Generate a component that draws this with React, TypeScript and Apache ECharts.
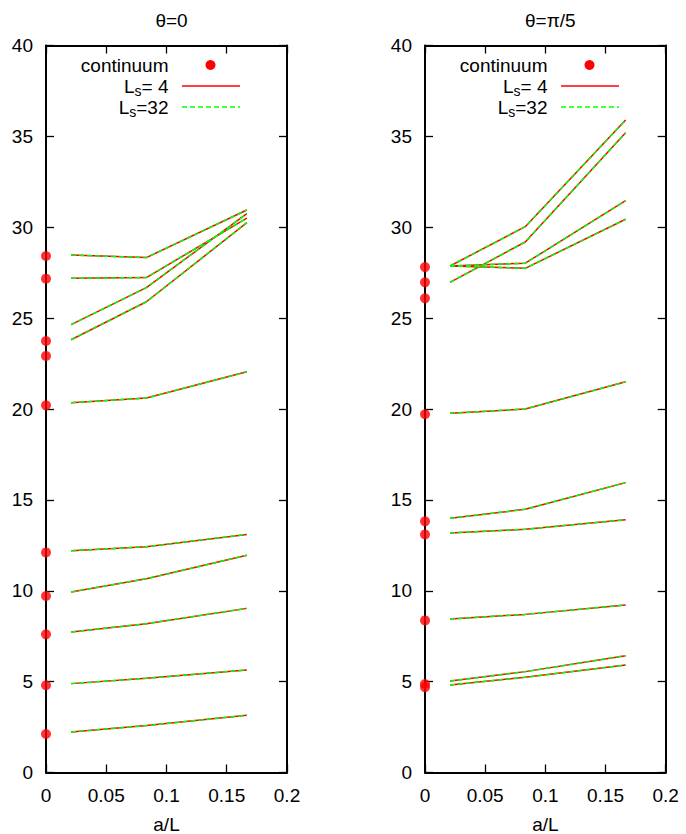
import React, { useEffect, useRef } from 'react';
import * as echarts from 'echarts';

// x positions of the lattice results (a/L)
const X_LEVELS = [0.0208, 0.0833, 0.1667];

// theta = 0
const THETA0_CONTINUUM = [28.42, 27.17, 23.74, 22.92, 20.2, 12.11, 9.71, 7.6, 4.8, 2.12];
const THETA0_LS4 = [
  [28.47, 28.33, 30.95],
  [27.19, 27.23, 30.5],
  [24.64, 26.68, 30.75],
  [23.81, 25.9, 30.25],
  [20.35, 20.6, 22.05],
  [12.2, 12.42, 13.1],
  [9.93, 10.66, 11.95],
  [7.73, 8.19, 9.03],
  [4.89, 5.18, 5.64],
  [2.23, 2.58, 3.15],
];
const THETA0_LS32 = [
  [28.47, 28.33, 30.95],
  [27.19, 27.23, 30.5],
  [24.64, 26.68, 30.75],
  [23.81, 25.9, 30.25],
  [20.35, 20.6, 22.05],
  [12.2, 12.42, 13.1],
  [9.93, 10.66, 11.95],
  [7.73, 8.19, 9.03],
  [4.89, 5.18, 5.64],
  [2.23, 2.58, 3.15],
];

// theta = pi/5
const PI5_CONTINUUM = [27.81, 26.97, 26.09, 19.71, 13.82, 13.1, 8.37, 4.87, 4.69];
const PI5_LS4 = [
  [27.87, 30.03, 35.9],
  [26.97, 29.19, 35.2],
  [27.87, 28.02, 31.46],
  [27.87, 27.74, 30.44],
  [19.76, 20.0, 21.5],
  [13.99, 14.48, 15.95],
  [13.18, 13.38, 13.91],
  [8.45, 8.7, 9.22],
  [5.03, 5.55, 6.43],
  [4.81, 5.24, 5.91],
];
const PI5_LS32 = [
  [27.87, 30.03, 35.9],
  [26.97, 29.19, 35.2],
  [27.87, 28.02, 31.46],
  [27.87, 27.74, 30.44],
  [19.76, 20.0, 21.5],
  [13.99, 14.48, 15.95],
  [13.18, 13.38, 13.91],
  [8.45, 8.7, 9.22],
  [5.03, 5.55, 6.43],
  [4.81, 5.24, 5.91],
];

const TITLES = ['θ=0', 'θ=π/5'];
const X_NAME = 'a/L';
const LEGEND_LABELS = ['continuum', 'L{s|s}{n|= 4}', 'L{s|s}{n|=32}'];

const FONT = "'Liberation Sans', Arial, Helvetica, sans-serif";
const RED = '#ff0000';
const GREEN = '#00ff00';

const GRIDS = [
  { left: 46, top: 45.5, width: 241, height: 727 },
  { left: 425, top: 45.5, width: 240.7, height: 727 },
];

export default function App() {
  const ref = useRef<HTMLDivElement>(null);

  useEffect(() => {
    document.body.style.margin = '0';
    if (!ref.current) return;
    const chart = echarts.init(ref.current, undefined, { renderer: 'svg' });

    const axisLine = { show: true, onZero: false, lineStyle: { color: '#000', width: 2 } };
    const axisTick = { show: true, inside: true, length: 8, lineStyle: { color: '#000', width: 1.3 } };
    const labelStyle = { color: '#000', fontSize: 19, fontFamily: FONT };

    const xAxes: any[] = [];
    const yAxes: any[] = [];
    GRIDS.forEach((_, gi) => {
      xAxes.push({
        type: 'value', gridIndex: gi, position: 'bottom', min: 0, max: 0.2, interval: 0.05,
        axisLine, axisTick, splitLine: { show: false },
        axisLabel: { ...labelStyle, margin: 13 },
        name: X_NAME, nameLocation: 'middle', nameGap: 42,
        nameTextStyle: { color: '#000', fontSize: 19, lineHeight: 19, fontFamily: FONT },
      });
      xAxes.push({
        type: 'value', gridIndex: gi, position: 'top', min: 0, max: 0.2, interval: 0.05,
        axisLine, axisTick, splitLine: { show: false }, axisLabel: { show: false },
      });
      yAxes.push({
        type: 'value', gridIndex: gi, position: 'left', min: 0, max: 40, interval: 5,
        axisLine, axisTick, splitLine: { show: false },
        axisLabel: { ...labelStyle, margin: 13 },
      });
      yAxes.push({
        type: 'value', gridIndex: gi, position: 'right', min: 0, max: 40, interval: 5,
        axisLine, axisTick, splitLine: { show: false }, axisLabel: { show: false },
      });
    });

    const panels = [
      { cont: THETA0_CONTINUUM, ls4: THETA0_LS4, ls32: THETA0_LS32 },
      { cont: PI5_CONTINUUM, ls4: PI5_LS4, ls32: PI5_LS32 },
    ];

    const series: any[] = [];
    panels.forEach((p, gi) => {
      const xi = gi * 2;
      const yi = gi * 2;
      p.ls4.forEach((row) => {
        series.push({
          type: 'line', xAxisIndex: xi, yAxisIndex: yi, symbol: 'none', silent: true,
          data: X_LEVELS.map((x, i) => [x, row[i]]),
          lineStyle: { color: RED, width: 1.5 },
        });
      });
      p.ls32.forEach((row) => {
        series.push({
          type: 'line', xAxisIndex: xi, yAxisIndex: yi, symbol: 'none', silent: true,
          data: X_LEVELS.map((x, i) => [x, row[i]]),
          lineStyle: { color: GREEN, width: 1.5, type: [5, 3] },
        });
      });
      series.push({
        type: 'scatter', xAxisIndex: xi, yAxisIndex: yi, symbol: 'circle', symbolSize: 10,
        clip: false, silent: true,
        itemStyle: { color: RED },
        data: p.cont.map((v) => [0, v]),
      });
    });

    const graphic: any[] = [];
    GRIDS.forEach((g) => {
      const ox = g.left;
      const textRight = ox + 122.5;
      const markX = ox + 164.5;
      const lineX1 = ox + 136;
      const lineX2 = ox + 194;
      const rows = [65, 86, 107];
      const rich = {
        n: { fontSize: 19, fontFamily: FONT, fill: '#000', height: 19, lineHeight: 19, verticalAlign: 'top' },
        s: { fontSize: 14, fontFamily: FONT, fill: '#000', height: 14, lineHeight: 21, verticalAlign: 'bottom' },
      };
      graphic.push({
        type: 'text', silent: true,
        style: {
          text: LEGEND_LABELS[0], x: textRight, y: rows[0],
          align: 'right', textAlign: 'right', verticalAlign: 'middle', textVerticalAlign: 'middle',
          fontSize: 19, fontFamily: FONT, fill: '#000',
        },
      });
      graphic.push({
        type: 'circle', silent: true,
        shape: { cx: markX, cy: rows[0], r: 5 },
        style: { fill: RED },
      });
      [1, 2].forEach((k) => {
        graphic.push({
          type: 'text', silent: true,
          style: {
            text: '{n|' + LEGEND_LABELS[k].replace('L{s|s}', 'L}{s|s}'),
            x: textRight, y: rows[k] + 1,
            align: 'right', textAlign: 'right', verticalAlign: 'middle', textVerticalAlign: 'middle',
            rich,
          },
        });
      });
      graphic.push({
        type: 'line', silent: true,
        shape: { x1: lineX1, y1: rows[1], x2: lineX2, y2: rows[1] },
        style: { stroke: RED, lineWidth: 1.5 },
      });
      graphic.push({
        type: 'line', silent: true,
        shape: { x1: lineX1, y1: rows[2], x2: lineX2, y2: rows[2] },
        style: { stroke: GREEN, lineWidth: 1.5, lineDash: [5, 3] },
      });
    });

    chart.setOption({
      animation: false,
      backgroundColor: '#fff',
      title: GRIDS.map((g, i) => ({
        text: TITLES[i],
        left: g.left + g.width / 2,
        top: 6,
        textAlign: 'center',
        textStyle: { color: '#000', fontSize: 19, fontWeight: 'normal', fontFamily: FONT },
      })),
      grid: GRIDS.map((g) => ({ ...g, containLabel: false, outerBoundsMode: 'none' })),
      xAxis: xAxes,
      yAxis: yAxes,
      series,
      graphic,
    });

    return () => chart.dispose();
  }, []);

  return <div ref={ref} style={{ width: 686, height: 834 }} />;
}
